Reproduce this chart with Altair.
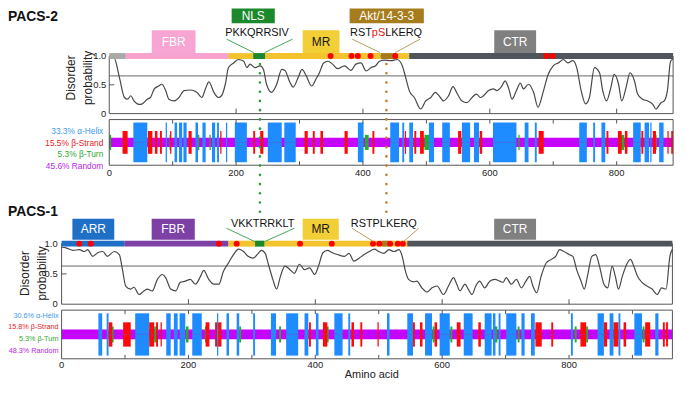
import altair as alt
import pandas as pd

FONT = "Liberation Sans, Arial, Helvetica, sans-serif"

# ---------------- data ----------------
P2_LEN = 889
P1_LEN = 963

p2_curve = [(0,0.97),(8,0.96),(16,0.63),(24,0.28),(29,0.25),(34,0.31),(39,0.22),(47,0.16),(52,0.17),(60,0.25),
            (65,0.28),(71,0.43),(78,0.48),(83,0.51),(89,0.40),(94,0.25),(102,0.22),(110,0.28),(118,0.40),(128,0.41),
            (138,0.37),(146,0.28),(152,0.44),(157,0.55),(165,0.37),(172,0.28),(177,0.31),(183,0.51),(188,0.80),(196,0.88),
            (204,0.94),(212,0.91),(217,0.80),(222,0.86),(230,0.80),(238,0.83),(243,0.77),(248,0.51),(256,0.37),(264,0.51),
            (272,0.77),(277,0.75),(285,0.54),(290,0.46),(298,0.63),(304,0.77),(310,0.67),(319,0.48),(326,0.60),(331,0.70),
            (338,0.88),(345,0.91),(352,0.86),(360,0.78),(371,0.83),(381,0.75),(389,0.86),(397,0.88),(405,0.74),(413,0.80),
            (420,0.83),(426,0.91),(434,0.93),(444,0.92),(454,0.94),(462,0.83),(468,0.60),(473,0.40),(481,0.28),(491,0.08),
            (499,0.22),(507,0.28),(514,0.37),(522,0.28),(527,0.22),(535,0.31),(542,0.47),(549,0.34),(556,0.22),(564,0.19),
            (572,0.28),(579,0.34),(585,0.28),(590,0.31),(598,0.40),(606,0.43),(611,0.40),(619,0.48),(624,0.57),(630,0.43),
            (635,0.25),(642,0.40),(648,0.53),(653,0.43),(661,0.51),(669,0.37),(676,0.11),(684,0.37),(692,0.68),(700,0.83),
            (708,0.88),(716,0.94),(723,0.88),(731,0.92),(737,0.80),(744,0.40),(751,0.17),(757,0.28),(765,0.80),(773,0.71),
            (778,0.40),(784,0.22),(791,0.46),(796,0.68),(803,0.51),(808,0.22),(815,0.46),(821,0.71),(828,0.57),(833,0.34),
            (841,0.25),(849,0.22),(857,0.16),(862,0.08),(870,0.19),(875,0.22),(880,0.40),(885,0.91),(889,0.95)]

p1_curve = [(0,0.94),(7,0.93),(18,0.89),(28,0.90),(36,0.87),(41,0.90),(49,0.79),(57,0.85),(65,0.87),(72,0.79),
            (83,0.87),(91,0.82),(96,0.57),(101,0.30),(109,0.25),(114,0.28),(122,0.16),(130,0.22),(135,0.25),(143,0.22),
            (151,0.41),(159,0.49),(164,0.44),(172,0.25),(180,0.22),(187,0.36),(195,0.38),(203,0.41),(211,0.33),(219,0.46),
            (224,0.56),(232,0.41),(240,0.33),(248,0.33),(255,0.54),(263,0.68),(271,0.82),(279,0.91),(287,0.87),(294,0.79),
            (302,0.76),(310,0.84),(315,0.89),(321,0.84),(326,0.66),(333,0.41),(339,0.25),(345,0.46),(352,0.63),(360,0.57),
            (367,0.51),(375,0.66),(383,0.57),(391,0.60),(399,0.49),(405,0.63),(412,0.85),(419,0.89),(427,0.85),(435,0.82),
            (446,0.79),(453,0.84),(461,0.71),(469,0.76),(477,0.82),(485,0.87),(493,0.91),(500,0.87),(508,0.84),(516,0.90),
            (524,0.87),(532,0.90),(537,0.79),(542,0.55),(547,0.41),(555,0.37),(560,0.38),(568,0.27),(576,0.20),(584,0.27),
            (592,0.30),(602,0.16),(610,0.30),(618,0.44),(623,0.33),(628,0.22),(636,0.33),(641,0.25),(647,0.16),(653,0.30),
            (659,0.38),(667,0.27),(675,0.38),(683,0.41),(691,0.38),(696,0.36),(701,0.44),(709,0.33),(717,0.41),(725,0.27),
            (732,0.38),(738,0.46),(743,0.30),(749,0.19),(756,0.46),(764,0.68),(772,0.74),(779,0.79),(785,0.90),(792,0.87),
            (800,0.82),(806,0.79),(812,0.57),(819,0.38),(824,0.25),(829,0.46),(836,0.79),(842,0.82),(848,0.63),(855,0.33),
            (861,0.27),(868,0.63),(873,0.46),(878,0.25),(884,0.46),(892,0.68),(897,0.74),(902,0.63),(908,0.46),(915,0.36),
            (923,0.30),(931,0.25),(939,0.16),(946,0.27),(953,0.25),(959,0.79),(963,0.91)]

p2_threshold = 0.655
p1_threshold = 0.63

# domain bar segments: (region, start, end)
p2_bar = [("N", 0, 26), ("FBR", 26, 188), ("MR", 188, 227), ("NLS", 227, 246), ("MR", 246, 428),
          ("Akt", 428, 451), ("MR", 451, 473), ("CTR", 473, 889)]
p1_bar = [("ARR", 0, 99), ("FBR", 99, 263), ("MR", 263, 305), ("NLS", 305, 320), ("MR", 320, 505),
          ("Akt", 505, 516), ("MR", 516, 545), ("CTR", 545, 963)]

# phosphorylation sites (red dots)
p2_sites = [349, 382, 392, 412, 451, 689, 699]
p1_sites = [28, 46, 248, 276, 376, 426, 491, 501, 518, 530, 538]

# labelled region boxes: (label, start, end, tier)
p2_boxes = [("FBR", 67, 136, "low"), ("NLS", 193, 261, "high"), ("MR", 305, 363, "low"),
            ("Akt/14-3-3", 379, 496, "high"), ("CTR", 607, 673, "low")]
p1_boxes = [("ARR", 17, 83, "low"), ("FBR", 142, 210, "low"), ("MR", 380, 437, "low"), ("CTR", 682, 748, "low")]

# motif labels: (text, residue)
p2_nls_motif = ("PKKQRRSIV", 233)
p2_akt_motif = (("RST", "pS", "LKERQ"), 414)
p1_nls_motif = ("VKKTRRKLT", 317)
p1_akt_motif = ("RSTPLKERQ", 508)

# leader lines: (kind, residue at label, residue at bar)
p2_leaders = [("NLS", 185, 228), ("NLS", 289, 245), ("Akt", 383, 427), ("Akt", 490, 451)]
p1_leaders = [("NLS", 260, 305), ("NLS", 367, 320), ("Akt", 458, 492), ("Akt", 563, 539)]

# alignment guides (PACS-2 residue)
guides = [("NLS", 237.6), ("Akt", 437)]

y_ticks = [0, 0.5, 1.0]
y_tick_labels = ["0", "0.5", "1.0"]
x_label_ticks = [0, 200, 400, 600, 800]

ss_names = ["α-Helix", "β-Strand", "β-Turn", "Random"]
p2_ss_pct = [33.3, 15.5, 5.3, 45.6]
p1_ss_pct = [30.6, 15.8, 5.3, 48.3]

p2_helix = [(38,60),(89,91),(103,107),(110,115),(117,122),(136,140),(147,152),(162,167),(170,173),(184,186),
            (198,217),(250,272),(276,294),(392,401),(443,457),(462,465),(473,479),(504,512),(525,537),(556,569),
            (575,583),(605,642),(655,661),(671,674),(741,753),(763,766),(776,782),(826,838),(844,851),(853,855),(867,874)]
p2_strand = [(21,29),(61,68),(72,76),(80,83),(96,98),(125,130),(175,177),(227,230),(238,243),(308,313),(321,324),
             (333,337),(371,376),(415,418),(466,468),(481,484),(490,496),(550,555),(584,588),(677,685),(784,787),
             (802,808),(813,817),(839,842),(857,862),(880,882),(886,889)]
p2_turn = [(0,3),(95,97),(112,114),(140,142),(158,160),(170,172),(403,409),(497,506),(645,647),(657,659),(807,812),(858,863)]

p1_helix = [(58,64),(71,74),(116,138),(165,172),(177,183),(186,195),(206,221),(245,247),(260,264),(276,280),
            (302,305),(330,338),(354,373),(383,389),(401,405),(430,443),(452,455),(513,517),(545,554),(573,584),
            (596,612),(634,648),(667,678),(680,684),(689,692),(701,717),(725,730),(740,746),(803,806),(845,855),
            (864,870),(878,881),(903,915),(936,941)]
p1_strand = [(74,80),(97,109),(138,146),(149,152),(156,158),(227,233),(242,252),(390,393),(412,419),(457,461),
             (471,474),(498,500),(552,557),(565,569),(588,592),(623,629),(657,661),(747,757),(772,775),(818,827),
             (855,860),(870,878),(886,890),(920,928),(948,951),(953,956)]
p1_turn = [(79,82),(146,150),(196,200),(226,228),(280,283),(343,346),(418,421),(585,588),(613,616),(683,687),
           (719,722),(809,812),(827,830),(916,919)]

# ---------------- styles ----------------
BAR2 = {"N": "#a9a9a9", "FBR": "#f7a3d0", "MR": "#f3c42e", "NLS": "#1c8a2c", "Akt": "#a57b1c", "CTR": "#50555b"}
BAR1 = {"ARR": "#1f6fc7", "FBR": "#7d41a5", "MR": "#f3c42e", "NLS": "#1c8a2c", "Akt": "#a57b1c", "CTR": "#50555b"}
BOX2 = {"FBR": "#f7a6d3", "NLS": "#1c8a2c", "MR": "#f3cf37", "Akt/14-3-3": "#a67c1c", "CTR": "#808080"}
BOX1 = {"ARR": "#1f6fc7", "FBR": "#7d41a5", "MR": "#f3cf37", "CTR": "#808080"}
LEAD = {"NLS": "#4aa85a", "Akt": "#b59c63"}
GUIDE = {"NLS": "#2a9d3a", "Akt": "#c97a25"}
SS_COL = {"helix": "#1e8cff", "strand": "#ff0a0a", "turn": "#26ad26", "random": "#c800ff"}
SS_HALF = {"helix": 0.87, "strand": 0.5, "turn": 0.33, "random": 0.2}
SS_TXT = ["#3b99ec", "#e5211d", "#2ea82e", "#b526e6"]
FRAME = "#555555"
LABEL = "#222222"
W = 616

X2S = alt.Scale(domain=[-75.1, 888.9], nice=False, zero=False)
X1S = alt.Scale(domain=[0, 964], nice=False, zero=False)


def one(**kw):
    return pd.DataFrame({k: [v] for k, v in kw.items()})


def disorder_row(curve, length, thr, bar, bar_col, sites, boxes, box_col, tiers, xsc, height, yrange,
                 ylabel_x, ytick_x2, title, title_xy, ytitle_xy,
                 nls_motif, akt_motif, motif_y, leaders, lead_y, anchor=False):
    ysc = alt.Scale(domain=[0, 1], range=yrange, nice=False, zero=False)

    def X(f):
        return alt.X(f, type="quantitative", scale=xsc, axis=None)

    def XD(v):
        return alt.X(datum=v, type="quantitative", scale=xsc, axis=None)

    def Y(f):
        return alt.Y(f, type="quantitative", scale=ysc, axis=None)

    def YD(v):
        return alt.Y(datum=v, type="quantitative", scale=ysc, axis=None)

    layers = []
    layers.append(alt.Chart(one(k=0)).mark_rect(fillOpacity=0, stroke=FRAME, strokeWidth=1).encode(
        x=XD(0), x2=alt.X2(datum=length), y=YD(0), y2=alt.Y2(datum=1)))
    layers.append(alt.Chart(one(k=0)).mark_rule(color=FRAME, strokeWidth=0.9).encode(
        x=XD(0), x2=alt.X2(datum=length), y=YD(thr)))
    ticks = pd.DataFrame({"t": [t for t in x_label_ticks if 0 < t < length]})
    layers.append(alt.Chart(ticks).mark_rule(color=FRAME, strokeWidth=1).encode(
        x=X("t"), y=alt.value(yrange[0]), y2=alt.value(yrange[0] - 5)))
    layers.append(alt.Chart(one(k=0)).mark_rule(color=FRAME, strokeWidth=1).encode(
        x=XD(0), x2=alt.value(ytick_x2), y=YD(0.5)))
    # y tick labels
    ylab = pd.DataFrame({"v": y_ticks, "t": y_tick_labels})
    layers.append(alt.Chart(ylab).mark_text(font=FONT, fontSize=9.5, align="right", baseline="middle",
                                            color=LABEL).encode(
        x=alt.value(ylabel_x), y=Y("v"), text="t:N"))

    cdf = pd.DataFrame(curve, columns=["aa", "v"])
    layers.append(alt.Chart(cdf).mark_line(color="#484848", strokeWidth=1.2, interpolate="monotone").encode(
        x=X("aa"), y=Y("v")))

    bdf = pd.DataFrame([{"s": s, "e": e, "c": bar_col[n]} for n, s, e in bar])
    layers.append(alt.Chart(bdf).mark_rule(strokeWidth=6).encode(
        x=X("s"), x2=alt.X2("e"), y=YD(1), color=alt.Color("c:N", scale=None)))
    layers.append(alt.Chart(pd.DataFrame({"aa": sites})).mark_circle(size=36, color="#ff0000", opacity=1).encode(
        x=X("aa"), y=YD(1)))

    for tier, (y0, y1, yt) in tiers.items():
        rows = [b for b in boxes if b[3] == tier]
        if not rows:
            continue
        df = pd.DataFrame([{"name": n, "s": s, "e": e, "m": (s + e) / 2, "c": box_col[n],
                            "tc": "#1a1a1a" if n == "MR" else "#ffffff"} for n, s, e, _ in rows])
        layers.append(alt.Chart(df).mark_rect().encode(
            x=X("s"), x2=alt.X2("e"), y=alt.value(y0), y2=alt.value(y1), color=alt.Color("c:N", scale=None)))
        layers.append(alt.Chart(df).mark_text(font=FONT, fontSize=12, align="center", baseline="middle").encode(
            x=X("m"), y=alt.value(yt), text="name:N", color=alt.Color("tc:N", scale=None)))

    ldf = pd.DataFrame([{"x1": a, "x2": b, "c": LEAD[k]} for k, a, b in leaders])
    layers.append(alt.Chart(ldf).mark_rule(strokeWidth=1).encode(
        x=X("x1"), x2=alt.X2("x2"), y=alt.value(lead_y[0]), y2=alt.value(lead_y[1]),
        color=alt.Color("c:N", scale=None)))

    mt = dict(font=FONT, fontSize=11, baseline="middle", color="#111111")
    layers.append(alt.Chart(one(t=nls_motif[0], aa=nls_motif[1])).mark_text(align="center", **mt).encode(
        x=X("aa"), y=alt.value(motif_y), text="t:N"))
    if isinstance(akt_motif[0], tuple):
        a, p, c = akt_motif[0]
        pos = akt_motif[1]
        layers.append(alt.Chart(one(t=a, aa=pos)).mark_text(align="right", **mt).encode(
            x=X("aa"), y=alt.value(motif_y), text="t:N"))
        layers.append(alt.Chart(one(t=p, aa=pos)).mark_text(align="left", **{**mt, "color": "#e8141a"}).encode(
            x=X("aa"), y=alt.value(motif_y), text="t:N"))
        layers.append(alt.Chart(one(t=c, aa=pos)).mark_text(align="left", dx=13.4, **mt).encode(
            x=X("aa"), y=alt.value(motif_y), text="t:N"))
    else:
        layers.append(alt.Chart(one(t=akt_motif[0], aa=akt_motif[1])).mark_text(align="center", **mt).encode(
            x=X("aa"), y=alt.value(motif_y), text="t:N"))

    layers.append(alt.Chart(one(t=title)).mark_text(font=FONT, fontSize=14, fontWeight="bold", align="left",
                                                  baseline="middle", color="#111111").encode(
        x=alt.value(title_xy[0]), y=alt.value(title_xy[1]), text="t:N"))
    layers.append(alt.Chart(one(k=0)).mark_text(text=["Disorder", "probability"], angle=270, font=FONT,
                                              fontSize=12, lineHeight=17, align="center", baseline="middle",
                                              color=LABEL).encode(
        x=alt.value(ytitle_xy[0]), y=alt.value(ytitle_xy[1])))
    if anchor:
        layers.append(alt.Chart(one(k=0)).mark_rect(color="#ffffff").encode(
            x=alt.value(-82), x2=alt.value(-81), y=alt.value(-75), y2=alt.value(-74)))
    return alt.layer(*layers).properties(width=W, height=height)


def ss_row(length, helix, strand, turn, pct, xsc, height, yrange, legend_x, legend_y, legend_size,
           xlabel_y, axis_title=None, axis_title_xy=None, guide_rows=None, guide_y=None):
    ysc = alt.Scale(domain=[-1, 1], range=yrange, nice=False, zero=False)

    def X(f):
        return alt.X(f, type="quantitative", scale=xsc, axis=None)

    def XD(v):
        return alt.X(datum=v, type="quantitative", scale=xsc, axis=None)

    def YD(v):
        return alt.Y(datum=v, type="quantitative", scale=ysc, axis=None)

    layers = []
    h = SS_HALF["random"]
    layers.append(alt.Chart(one(s=0, e=length)).mark_rect(color=SS_COL["random"]).encode(
        x=X("s"), x2=alt.X2("e"), y=YD(-h), y2=alt.Y2(datum=h)))
    for kind, segs in (("turn", turn), ("strand", strand), ("helix", helix)):
        h = SS_HALF[kind]
        df = pd.DataFrame(segs, columns=["s", "e"])
        layers.append(alt.Chart(df).mark_rect(color=SS_COL[kind]).encode(
            x=X("s"), x2=alt.X2("e"), y=YD(-h), y2=alt.Y2(datum=h)))
    layers.append(alt.Chart(one(k=0)).mark_rule(color="#8a3fc0", strokeWidth=0.6, opacity=0.6).encode(
        x=XD(0), x2=alt.X2(datum=length), y=YD(0)))
    layers.append(alt.Chart(one(k=0)).mark_rect(fillOpacity=0, stroke=FRAME, strokeWidth=1).encode(
        x=XD(0), x2=alt.X2(datum=length), y=YD(-1), y2=alt.Y2(datum=1)))
    ticks = pd.DataFrame({"t": [t for t in range(100, 1000, 100) if t < length]})
    layers.append(alt.Chart(ticks).mark_rule(color=FRAME, strokeWidth=1).encode(
        x=X("t"), y=alt.value(yrange[1]), y2=alt.value(yrange[1] + 4)))
    layers.append(alt.Chart(ticks).mark_rule(color=FRAME, strokeWidth=1).encode(
        x=X("t"), y=alt.value(yrange[0]), y2=alt.value(yrange[0] - 4)))
    # x tick labels
    xl = pd.DataFrame({"t": x_label_ticks, "s": [str(v) for v in x_label_ticks]})
    layers.append(alt.Chart(xl).mark_text(font=FONT, fontSize=9.5, align="center", baseline="middle",
                                          color=LABEL).encode(
        x=X("t"), y=alt.value(xlabel_y), text="s:N"))
    if axis_title:
        layers.append(alt.Chart(one(t=axis_title)).mark_text(font=FONT, fontSize=11, align="center",
                                                           baseline="middle", color=LABEL).encode(
            x=alt.value(axis_title_xy[0]), y=alt.value(axis_title_xy[1]), text="t:N"))
    for i, (name, p) in enumerate(zip(ss_names, pct)):
        layers.append(alt.Chart(one(t=f"{p}% {name}")).mark_text(
            font=FONT, fontSize=legend_size, align="right", baseline="middle", color=SS_TXT[i]).encode(
            x=alt.value(legend_x), y=alt.value(legend_y[i]), text="t:N"))
    if guide_rows:
        gdf = pd.DataFrame([{"aa": a, "c": GUIDE[k]} for k, a in guide_rows])
        layers.append(alt.Chart(gdf).mark_rule(strokeWidth=2.6, strokeCap="round", strokeDash=[0.1, 9.2]).encode(
            x=X("aa"), y=alt.value(guide_y[0]), y2=alt.value(guide_y[1]), color=alt.Color("c:N", scale=None)))
    return alt.layer(*layers).properties(width=W, height=height)


r1 = disorder_row(p2_curve, P2_LEN, p2_threshold, p2_bar, BAR2, p2_sites, p2_boxes, BOX2,
                  {"low": (-26, -3, -14.5), "high": (-48, -33, -40)}, X2S, 58, [58, 0],
                  ylabel_x=45, ytick_x2=53, title="PACS-2", title_xy=(-54, -39.5),
                  ytitle_xy=(9.5, 22), nls_motif=p2_nls_motif, akt_motif=p2_akt_motif, motif_y=-23.3,
                  leaders=p2_leaders, lead_y=(-17, -3.5), anchor=True)
r2 = ss_row(P2_LEN, p2_helix, p2_strand, p2_turn, p2_ss_pct, X2S, 52, [52, 6], 42, [18, 29.3, 40.7, 52.3], 8.4,
            xlabel_y=59.7, guide_rows=guides, guide_y=(-50, 99))
r3 = disorder_row(p1_curve, P1_LEN, p1_threshold, p1_bar, BAR1, p1_sites, p1_boxes, BOX1,
                  {"low": (54, 75, 64.5)}, X1S, 140, [140, 79],
                  ylabel_x=-4, ytick_x2=5, title="PACS-1", title_xy=(-54, 47),
                  ytitle_xy=(-37, 109), nls_motif=p1_nls_motif, akt_motif=p1_akt_motif, motif_y=59,
                  leaders=p1_leaders, lead_y=(63.5, 77))
r4 = ss_row(P1_LEN, p1_helix, p1_strand, p1_turn, p1_ss_pct, X1S, 55, [55, 6], -3, [11.7, 23.3, 35, 46.7], 7.3,
            xlabel_y=61.7, axis_title="Amino acid", axis_title_xy=(312.5, 71))

chart = alt.vconcat(r1, r2, r3, r4, spacing=0, bounds="flush").properties(
    padding={"left": -28, "top": -28, "right": 2, "bottom": 2}
).configure_view(strokeWidth=0)

chart.save("out.html", embed_options={"renderer": "svg", "actions": False})
